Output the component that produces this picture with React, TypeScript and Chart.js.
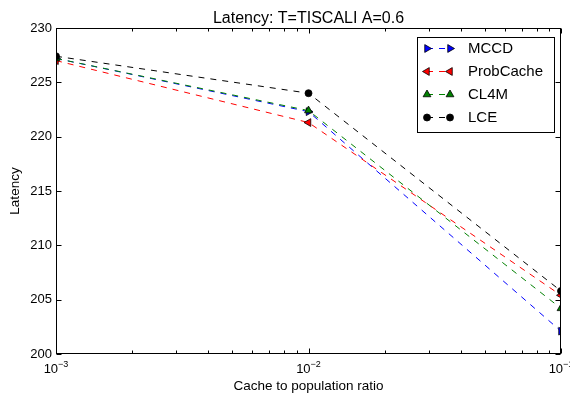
import React, { useEffect, useRef } from 'react';
import { Chart, registerables } from 'chart.js';

Chart.register(...registerables);

// ---- data ----
const X_VALUES = [0.001, 0.01, 0.1];
const MCCD = [227.2, 222.3, 202.1];
const PROBCACHE = [227.0, 221.3, 205.4];
const CL4M = [227.2, 222.4, 204.2];
const LCE = [227.4, 224.0, 205.8];
const SERIES_NAMES = ['MCCD', 'ProbCache', 'CL4M', 'LCE'];

const X_MAJOR = [0.001, 0.01, 0.1];
const X_MAJOR_EXP = ['\u22123', '\u22122', '\u22121'];
const X_MINOR = [0.002, 0.003, 0.004, 0.005, 0.006, 0.007, 0.008, 0.009, 0.02, 0.03, 0.04, 0.05, 0.06, 0.07, 0.08, 0.09];
const Y_TICKS = [200, 205, 210, 215, 220, 225, 230];

const TITLE = 'Latency: T=TISCALI A=0.6';
const X_TITLE = 'Cache to population ratio';
const Y_TITLE = 'Latency';

const FONT = '"Liberation Sans", Arial, Helvetica, sans-serif';

const STYLES = [
  { color: '#0000ff', pointStyle: 'triangle', rotation: 90, radius: 4.5 },
  { color: '#ff0000', pointStyle: 'triangle', rotation: -90, radius: 4.5 },
  { color: '#008000', pointStyle: 'triangle', rotation: 0, radius: 4.5 },
  { color: '#000000', pointStyle: 'circle', rotation: 0, radius: 3.5 },
];

const SERIES = [MCCD, PROBCACHE, CL4M, LCE];

function drawMarker(ctx: CanvasRenderingContext2D, style: any, x: number, y: number) {
  ctx.save();
  ctx.beginPath();
  if (style.pointStyle === 'circle') {
    ctx.arc(x, y, style.radius, 0, Math.PI * 2);
  } else {
    let rad = (style.rotation * Math.PI) / 180;
    const r = style.radius;
    ctx.moveTo(x + Math.sin(rad) * r, y - Math.cos(rad) * r);
    rad += (2 * Math.PI) / 3;
    ctx.lineTo(x + Math.sin(rad) * r, y - Math.cos(rad) * r);
    rad += (2 * Math.PI) / 3;
    ctx.lineTo(x + Math.sin(rad) * r, y - Math.cos(rad) * r);
    ctx.closePath();
  }
  ctx.fillStyle = style.color;
  ctx.fill();
  ctx.lineWidth = 0.8;
  ctx.strokeStyle = '#000';
  ctx.stroke();
  ctx.restore();
}

const decor = {
  id: 'decor',
  afterDatasetsDraw(chart: any) {
    const { ctx, chartArea: a, scales } = chart;
    const xs = scales.x;
    const ys = scales.y;
    const L = Math.round(a.left) + 0.5;
    const R = Math.round(a.right) - 0.5;
    const T = Math.round(a.top) + 0.5;
    const B = Math.round(a.bottom) - 0.5;
    ctx.save();
    ctx.strokeStyle = '#000';
    ctx.lineWidth = 1;
    ctx.setLineDash([]);
    ctx.strokeRect(L, T, R - L, B - T);

    const major = 5;
    const minor = 3;
    ctx.beginPath();
    // y ticks
    for (const v of Y_TICKS) {
      const y = Math.round(ys.getPixelForValue(v)) + 0.5;
      ctx.moveTo(L, y); ctx.lineTo(L + major, y);
      ctx.moveTo(R, y); ctx.lineTo(R - major, y);
    }
    for (const v of X_MAJOR) {
      const x = Math.round(xs.getPixelForValue(v)) + 0.5;
      ctx.moveTo(x, B); ctx.lineTo(x, B - major);
      ctx.moveTo(x, T); ctx.lineTo(x, T + major);
    }
    for (const v of X_MINOR) {
      const x = Math.round(xs.getPixelForValue(v)) + 0.5;
      ctx.moveTo(x, B); ctx.lineTo(x, B - minor);
      ctx.moveTo(x, T); ctx.lineTo(x, T + minor);
    }
    ctx.stroke();

    // y tick labels
    ctx.fillStyle = '#000';
    ctx.font = `13px ${FONT}`;
    ctx.textAlign = 'right';
    ctx.textBaseline = 'middle';
    for (const v of Y_TICKS) {
      ctx.fillText(String(v), a.left - 4, ys.getPixelForValue(v));
    }
    // x tick labels with superscripts
    ctx.textAlign = 'left';
    ctx.textBaseline = 'alphabetic';
    X_MAJOR.forEach((v, i) => {
      const x = xs.getPixelForValue(v);
      ctx.font = `13px ${FONT}`;
      const w1 = ctx.measureText('10').width;
      ctx.font = `9px ${FONT}`;
      const w2 = ctx.measureText(X_MAJOR_EXP[i]).width;
      const start = x - (w1 + w2) / 2;
      ctx.font = `13px ${FONT}`;
      ctx.fillText('10', start, 373);
      ctx.font = `9px ${FONT}`;
      ctx.fillText(X_MAJOR_EXP[i], start + w1, 366.5);
    });

    // axis titles
    ctx.font = `13.5px ${FONT}`;
    ctx.textAlign = 'center';
    ctx.textBaseline = 'middle';
    ctx.fillText(X_TITLE, (a.left + a.right) / 2, 386);
    ctx.save();
    ctx.translate(15.5, (a.top + a.bottom) / 2);
    ctx.rotate(-Math.PI / 2);
    ctx.fillText(Y_TITLE, 0, 0);
    ctx.restore();

    // title
    ctx.font = `16px ${FONT}`;
    ctx.textBaseline = 'alphabetic';
    ctx.fillText(TITLE, (a.left + a.right) / 2, 23);

    // legend
    ctx.fillStyle = '#fff';
    ctx.fillRect(417.5, 37.5, 137, 95);
    ctx.strokeStyle = '#000';
    ctx.lineWidth = 1;
    ctx.strokeRect(417.5, 37.5, 137, 95);
    chart.data.datasets.forEach((ds: any, i: number) => {
      const y = 48.5 + i * 23;
      const st = STYLES[i];
      ctx.save();
      ctx.strokeStyle = st.color;
      ctx.lineWidth = 1;
      ctx.setLineDash([6, 6]);
      ctx.beginPath();
      ctx.moveTo(427, y);
      ctx.lineTo(450, y);
      ctx.stroke();
      ctx.restore();
      drawMarker(ctx, st, 427, y);
      drawMarker(ctx, st, 450, y);
      ctx.fillStyle = '#000';
      ctx.font = `15px ${FONT}`;
      ctx.textAlign = 'left';
      ctx.textBaseline = 'middle';
      ctx.fillText(ds.label, 468, y + 0.5);
    });
    ctx.restore();
  },
};

export default function App() {
  const ref = useRef<HTMLCanvasElement>(null);
  useEffect(() => {
    const datasets = SERIES.map((vals, i) => ({
      label: SERIES_NAMES[i],
      data: X_VALUES.map((x, j) => ({ x, y: vals[j] })),
      borderColor: STYLES[i].color,
      backgroundColor: STYLES[i].color,
      borderWidth: 1,
      borderDash: [6, 6],
      pointStyle: STYLES[i].pointStyle,
      rotation: STYLES[i].rotation,
      pointRadius: STYLES[i].radius,
      pointBorderColor: '#000',
      pointBorderWidth: 0.8,
      pointBackgroundColor: STYLES[i].color,
      fill: false,
      tension: 0,
      clip: 0,
      order: SERIES.length - i,
    }));
    const chart = new Chart(ref.current as HTMLCanvasElement, {
      type: 'line',
      data: { datasets } as any,
      options: {
        animation: false,
        responsive: false,
        devicePixelRatio: 1,
        layout: { padding: { left: 56, top: 28, right: 9, bottom: 40 } },
        scales: {
          x: { type: 'logarithmic', min: 0.001, max: 0.1, display: false },
          y: { type: 'linear', min: 200, max: 230, display: false },
        },
        plugins: {
          legend: { display: false },
          title: { display: false },
          tooltip: { enabled: false },
        },
      } as any,
      plugins: [decor],
    });
    return () => chart.destroy();
  }, []);
  return (
    <div style={{ position: 'fixed', left: 0, top: 0, width: 570, height: 394, background: '#fff' }}>
      <canvas ref={ref} width={570} height={394} style={{ display: 'block', width: 570, height: 394 }} />
    </div>
  );
}
